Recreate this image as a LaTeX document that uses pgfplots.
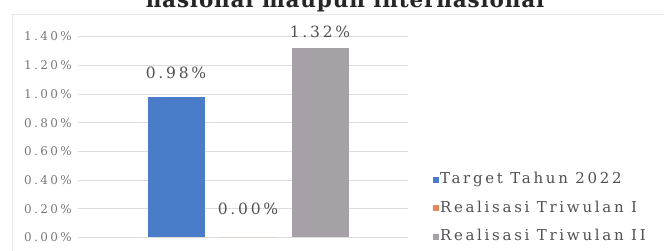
\documentclass[border=0pt]{standalone}
\usepackage{pgfplots}
\pgfplotsset{compat=1.18}
\usepackage{fontspec}
\setmainfont{DejaVu Serif}
\newfontfamily\lsfont[LetterSpace=18]{DejaVu Serif}
\newfontfamily\tkfont[LetterSpace=20]{DejaVu Serif}
\newfontfamily\titlefont[LetterSpace=4]{DejaVu Serif}
\definecolor{cblue}{HTML}{4A7CC9}
\definecolor{corange}{HTML}{E5875A}
\definecolor{cgray}{HTML}{A5A1A7}
\definecolor{cgrid}{HTML}{DCDCDC}
\definecolor{ctick}{HTML}{777777}
\definecolor{clabel}{HTML}{505050}
\begin{document}
\begin{tikzpicture}
\begin{axis}[
  scale only axis, width=330pt, height=201pt,
  xmin=78, xmax=408, ymin=0, ymax=1.4,
  axis line style={draw=none},
  ytick={0,0.2,0.4,0.6,0.8,1.0,1.2,1.4},
  yticklabels={0.00\%,0.20\%,0.40\%,0.60\%,0.80\%,1.00\%,1.20\%,1.40\%},
  xtick=\empty,
  major tick length=0pt,
  ymajorgrids, grid style={cgrid, line width=0.8pt},
  yticklabel style={anchor=east, inner sep=0pt, xshift=-6pt, font=\fontsize{12}{14}\tkfont, text=ctick},
  clip=false,
  legend style={at={(axis description cs:1.0758,0.1443)}, anchor=west, draw=none, fill=none,
    inner sep=0pt, outer sep=0pt, row sep=15.2pt, font=\fontsize{15}{17}\lsfont, text=clabel,
    nodes={inner sep=0pt, text height=10.5pt, text depth=3pt},
    /tikz/every odd column/.append style={column sep=1pt}},
  legend cell align=left,
  legend image code/.code={\fill[#1] (0pt,-3pt) rectangle (6pt,3pt);},
]
\addplot[ybar, bar width=57, bar shift=0pt, fill=cblue, draw=none,
  nodes near coords={0.98\%},
  every node near coord/.style={anchor=center, yshift=23.8pt, font=\fontsize{15.5}{17}\lsfont, text=clabel}]
  coordinates {(176,0.98)};
\addlegendentry{Target Tahun 2022}
\addplot[ybar, bar width=57, bar shift=0pt, fill=corange, draw=none,
  nodes near coords={0.00\%},
  every node near coord/.style={anchor=center, yshift=29pt, font=\fontsize{15.5}{17}\lsfont, text=clabel}]
  coordinates {(248,0)};
\addlegendentry{Realisasi Triwulan I}
\addplot[ybar, bar width=57, bar shift=0pt, fill=cgray, draw=none,
  nodes near coords={1.32\%},
  every node near coord/.style={anchor=center, yshift=16pt, font=\fontsize{15.5}{17}\lsfont, text=clabel}]
  coordinates {(320,1.32)};
\addlegendentry{Realisasi Triwulan II}
\end{axis}
\node[font=\fontsize{21.5}{25}\titlefont\bfseries, anchor=base, text=black!85] at (267pt,229.5pt) {nasional maupun internasional};
\draw[cgrid!70, line width=0.8pt] (-66pt,-13.5pt) -- (-66pt,223.5pt) -- (586pt,223.5pt);
\pgfresetboundingbox
\useasboundingbox (-78pt,-13.5pt) rectangle (586pt,237.5pt);
\end{tikzpicture}
\end{document}
